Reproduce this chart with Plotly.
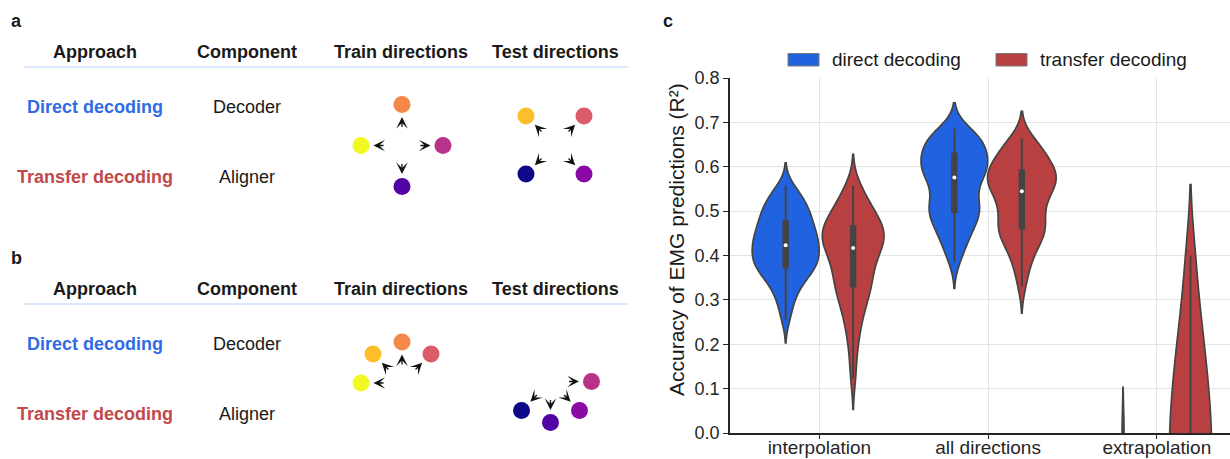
import numpy as np
import plotly.graph_objects as go

# ---------------- panel c: per-sample accuracy (R²) of EMG predictions ----------------
conditions = ["interpolation", "all directions", "extrapolation"]
approaches = ["direct decoding", "transfer decoding"]

direct_interp = [
    0.255, 0.280, 0.298, 0.312, 0.324, 0.334, 0.342, 0.349, 0.355, 0.361, 0.366, 0.370,
    0.373, 0.377, 0.381, 0.385, 0.389, 0.393, 0.397, 0.401, 0.405, 0.409, 0.413, 0.417,
    0.421, 0.425, 0.429, 0.433, 0.437, 0.441, 0.445, 0.449, 0.453, 0.458, 0.463, 0.468,
    0.473, 0.478, 0.483, 0.488, 0.493, 0.498, 0.504, 0.510, 0.516, 0.522, 0.529, 0.536,
    0.546, 0.557,
]
transfer_interp = [
    0.123, 0.170, 0.205, 0.228, 0.248, 0.263, 0.277, 0.289, 0.300, 0.310, 0.318, 0.325,
    0.330, 0.338, 0.346, 0.354, 0.361, 0.368, 0.375, 0.382, 0.389, 0.396, 0.403, 0.410,
    0.415, 0.419, 0.423, 0.427, 0.431, 0.435, 0.439, 0.443, 0.447, 0.451, 0.455, 0.459,
    0.463, 0.466, 0.470, 0.475, 0.480, 0.486, 0.492, 0.499, 0.506, 0.514, 0.523, 0.533,
    0.545, 0.558,
]
direct_all = [
    0.384, 0.405, 0.420, 0.432, 0.442, 0.451, 0.459, 0.467, 0.474, 0.481, 0.488, 0.494,
    0.498, 0.502, 0.506, 0.511, 0.516, 0.522, 0.529, 0.537, 0.545, 0.553, 0.561, 0.568,
    0.574, 0.578, 0.582, 0.586, 0.590, 0.594, 0.598, 0.602, 0.606, 0.610, 0.614, 0.619,
    0.624, 0.630, 0.634, 0.638, 0.642, 0.646, 0.651, 0.656, 0.661, 0.666, 0.671, 0.676,
    0.681, 0.686,
]
transfer_all = [
    0.330, 0.360, 0.380, 0.395, 0.408, 0.419, 0.428, 0.436, 0.443, 0.449, 0.454, 0.458,
    0.461, 0.468, 0.475, 0.482, 0.489, 0.496, 0.503, 0.510, 0.517, 0.524, 0.531, 0.537,
    0.543, 0.547, 0.551, 0.555, 0.559, 0.563, 0.567, 0.571, 0.575, 0.579, 0.583, 0.586,
    0.589, 0.592, 0.597, 0.602, 0.607, 0.612, 0.618, 0.624, 0.630, 0.637, 0.644, 0.651,
    0.658, 0.665,
]
direct_extrap = [
    0.003, -0.12, -0.26, -0.41, -0.58, -0.77, -0.98, -1.20, -1.45, -1.75, -2.10, -2.50,
]
transfer_extrap = [
    0.400, 0.296, 0.236, 0.188, 0.146, 0.109, 0.075, 0.043, 0.014,
    -0.015, -0.045, -0.075, -0.105, -0.135, -0.165, -0.20, -0.24, -0.28, -0.33,
    -0.38, -0.44, -0.50, -0.57, -0.65, -0.74, -0.84, -0.95, -1.07, -1.20, -1.35,
    -1.50, -1.70, -1.90, -2.15, -2.40, -2.70, -3.00,
]
y_ticks = [0.0, 0.1, 0.2, 0.3, 0.4, 0.5, 0.6, 0.7, 0.8]

# ---------------- panels a/b: reach directions (degrees) ----------------
direction_angles = [0, 45, 90, 135, 180, 225, 270, 315]
direction_colors = ["#b83289", "#db5c68", "#f48849", "#febd2a",
                    "#f0f921", "#0d0887", "#5302a3", "#8b0aa5"]
a_train = [90, 180, 0, 270]
a_test = [135, 45, 225, 315]
b_train = [180, 135, 90, 45]
b_test = [0, 315, 270, 225]

table_headers = ["Approach", "Component", "Train directions", "Test directions"]
approach_rows = ["Direct decoding", "Transfer decoding"]
component_rows = ["Decoder", "Aligner"]

# ---------------- styling ----------------
W, H = 1230, 459
FONT = "Liberation Sans, Arial, sans-serif"
INK = "#1a1a1a"
AXIS = "#262626"
GRID = "#e3e3e3"
EDGE = "#444444"
FILLS = ["#2162e0", "#b94040"]
ROW_COLORS = ["#2e6ce6", "#c2484b"]

fig = go.Figure()

# ---- violins (panel c) ----
dodge = [-0.2, 0.2]
groups = [
    # condition, approach, samples, kde bandwidth, drawn width
    (0, 0, direct_interp, 0.026, 0.397),
    (0, 1, transfer_interp, 0.035, 0.366),
    (1, 0, direct_all, 0.029, 0.395),
    (1, 1, transfer_all, 0.030, 0.407),
    (2, 0, direct_extrap, 0.050, 0.012),
    (2, 1, transfer_extrap, 0.080, 0.250),
]
for ci, ai, vals, bw, wd in groups:
    pos = ci + dodge[ai]
    fig.add_trace(go.Violin(
        x0=pos, y=vals, width=wd, bandwidth=bw, spanmode="soft",
        fillcolor=FILLS[ai], line=dict(color=EDGE, width=1.7), opacity=1,
        points=False, box_visible=False, meanline_visible=False,
        showlegend=False, hoverinfo="skip", name=approaches[ai]))
    fig.add_trace(go.Box(
        x0=pos, y=vals, width=0.026, fillcolor=EDGE,
        line=dict(color=EDGE, width=2), whiskerwidth=0, boxpoints=False,
        showlegend=False, hoverinfo="skip", name=approaches[ai]))
    fig.add_trace(go.Scatter(
        x=[pos], y=[float(np.median(vals))], mode="markers",
        marker=dict(color="white", size=4), showlegend=False, hoverinfo="skip"))

# ---- direction diagrams (panels a/b), drawn in a pixel-scaled overlay axis ----
R = 41
def direction_set(cx, cy, angles):
    xs = [cx + R * np.cos(np.radians(a)) for a in angles]
    ys = [cy - R * np.sin(np.radians(a)) for a in angles]
    cols = [direction_colors[direction_angles.index(a)] for a in angles]
    fig.add_trace(go.Scatter(
        x=xs, y=ys, mode="markers", xaxis="x2", yaxis="y2",
        marker=dict(size=17, color=cols, line=dict(width=0)),
        showlegend=False, hoverinfo="skip"))
    for a in angles:
        c, s = np.cos(np.radians(a)), np.sin(np.radians(a))
        fig.add_annotation(
            x=cx + 28.5 * c, y=cy - 28.5 * s, ax=cx + 17 * c, ay=cy - 17 * s,
            xref="x2", yref="y2", axref="x2", ayref="y2", text="",
            showarrow=True, arrowhead=3, arrowsize=1.5, arrowwidth=1.3,
            arrowcolor="#111111")

def label(x, y, text, size=18, bold=False, color=INK, anchor="center", angle=0):
    fig.add_annotation(
        x=x, y=y, xref="x2", yref="y2", showarrow=False, textangle=angle,
        text=f"<b>{text}</b>" if bold else text, xanchor=anchor, yanchor="middle",
        font=dict(family=FONT, size=size, color=color))

header_x = [94.5, 247, 401, 555]
for letter, top, tr, te, cy in [("a", 0, a_train, a_test, 145.5),
                                ("b", 237, b_train, b_test, 382)]:
    label(9, top + 21, letter, bold=True, anchor="left")
    for hx, txt in zip(header_x, table_headers):
        label(hx, top + 51.5, txt, bold=True)
    fig.add_shape(type="line", xref="x2", yref="y2", x0=24, x1=628,
                  y0=top + 67, y1=top + 67, line=dict(color="#cfdffa", width=1.5))
    for k in range(2):
        label(94.5, top + 106.5 + 70 * k, approach_rows[k], bold=True, color=ROW_COLORS[k])
        label(247, top + 106.5 + 70 * k, component_rows[k])
    train_cx = 402
    test_cx = 555 if letter == "a" else 550.5
    direction_set(train_cx, cy + (0 if letter == "a" else 1), tr)
    direction_set(test_cx, cy - 0.5, te)

# ---- panel c label, axis title and legend ----
label(661, 21, "c", bold=True, anchor="left")
label(676, 240, "Accuracy of EMG predictions (R²)", size=21, angle=-90)
legend_x = [788, 996]
for k in range(2):
    fig.add_shape(type="rect", xref="x2", yref="y2", x0=legend_x[k], x1=legend_x[k] + 31,
                  y0=53.5, y1=66, fillcolor=FILLS[k], line=dict(color="#7a7a7a", width=1))
    label(legend_x[k] + 42, 59.5, approaches[k], size=19, anchor="left")

fig.update_layout(
    width=W, height=H, autosize=False,
    margin=dict(l=0, r=0, t=0, b=0, pad=0, autoexpand=False),
    paper_bgcolor="white", plot_bgcolor="rgba(0,0,0,0)",
    violinmode="overlay", boxmode="overlay",
    violingap=0, violingroupgap=0, boxgap=0, boxgroupgap=0,
    font=dict(family=FONT, color=AXIS),
    xaxis=dict(domain=[730 / W, 1], range=[-0.53, 2.434], type="linear",
               tickvals=[0, 1, 2], ticktext=conditions, automargin=False,
               showgrid=True, gridcolor=GRID, gridwidth=1.2, zeroline=False,
               showline=True, linecolor=AXIS, linewidth=1.8,
               ticks="outside", ticklen=4, tickwidth=1.3, tickcolor=AXIS,
               ticklabelstandoff=-8,
               tickfont=dict(size=19, color=AXIS), fixedrange=True, anchor="y"),
    yaxis=dict(domain=[(H - 433) / H, (H - 78) / H], range=[0, 0.8],
               tickvals=y_ticks, ticktext=[f"{v:.1f}" for v in y_ticks], automargin=False,
               showgrid=True, gridcolor=GRID, gridwidth=1.2, zeroline=False,
               showline=True, linecolor=AXIS, linewidth=1.8,
               ticks="outside", ticklen=5, tickwidth=1.3, tickcolor=AXIS,
               tickfont=dict(size=18, color=AXIS), fixedrange=True, anchor="x"),
    xaxis2=dict(domain=[0, 1], range=[0, W], visible=False, fixedrange=True,
                anchor="y2", automargin=False),
    yaxis2=dict(domain=[0, 1], range=[H, 0], visible=False, fixedrange=True,
                anchor="x2", automargin=False),
)

fig.write_html("out.html")
